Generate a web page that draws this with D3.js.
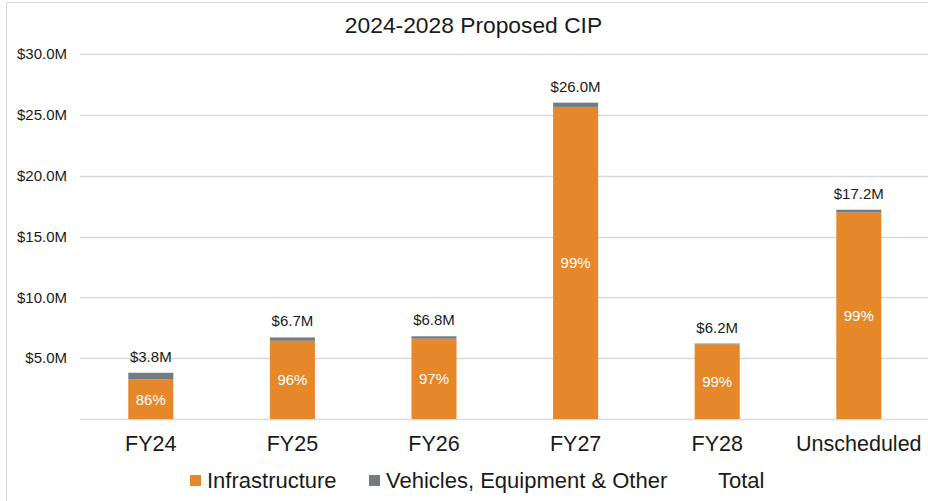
<!DOCTYPE html>
<html>
<head>
<meta charset="utf-8">
<script src="https://cdn.jsdelivr.net/npm/d3@7"></script>
<style>
  html, body { margin: 0; padding: 0; background: #fff; }
  svg { display: block; font-family: "Liberation Sans", Arial, sans-serif; }
</style>
</head>
<body>
<svg id="chart" width="928" height="501"></svg>
<script>
// Capital program by fiscal year, in $ millions
const categories = ["FY24", "FY25", "FY26", "FY27", "FY28", "Unscheduled"];
const infrastructure = [3.27, 6.43, 6.60, 25.65, 6.14, 16.98];
const vehiclesEquipment = [0.53, 0.27, 0.20, 0.35, 0.06, 0.22];
const yTicks = [5, 10, 15, 20, 25, 30];
const legendLabels = ["Infrastructure", "Vehicles, Equipment & Other", "Total"];
const chartTitle = "2024-2028 Proposed CIP";

const colors = { infra: "#E6872A", other: "#737B7F", grid: "#D9D9D9", text: "#1A1A1A" };

const svg = d3.select("#chart");

// Outer chart-area frame
svg.append("rect")
  .attr("x", 6.5).attr("y", 2.5)
  .attr("width", 940).attr("height", 520)
  .attr("fill", "none").attr("stroke", colors.grid);

const x = d3.scaleBand()
  .domain(categories)
  .range([80, 929.6])
  .paddingInner(0.682)
  .paddingOuter(0.341);

const y = d3.scaleLinear().domain([0, 30]).range([419, 54]);

// Gridlines (including baseline)
svg.append("g")
  .selectAll("line")
  .data([0].concat(yTicks))
  .join("line")
  .attr("x1", 80).attr("x2", 930)
  .attr("y1", d => Math.round(y(d)) + 0.5)
  .attr("y2", d => Math.round(y(d)) + 0.5)
  .attr("stroke", colors.grid)
  .attr("stroke-width", 1.3);

// Y axis labels
const yAxis = d3.axisLeft(y)
  .tickValues(yTicks)
  .tickSize(0)
  .tickPadding(0)
  .tickFormat(d => "$" + d3.format(".1f")(d) + "M");
svg.append("g")
  .attr("transform", "translate(67,0)")
  .call(yAxis)
  .call(g => g.select(".domain").remove())
  .call(g => g.selectAll("text")
    .attr("font-size", "15px")
    .attr("font-family", "Liberation Sans, Arial, sans-serif")
    .attr("fill", colors.text));

// X axis labels
const xAxis = d3.axisBottom(x).tickSize(0).tickPadding(0);
svg.append("g")
  .attr("transform", "translate(0,436)")
  .call(xAxis)
  .call(g => g.select(".domain").remove())
  .call(g => g.selectAll("text")
    .attr("font-size", "21.5px")
    .attr("font-family", "Liberation Sans, Arial, sans-serif")
    .attr("fill", colors.text));

const rows = categories.map((c, i) => ({
  cat: c,
  infra: infrastructure[i],
  other: vehiclesEquipment[i],
  total: infrastructure[i] + vehiclesEquipment[i]
}));

const bars = svg.append("g");

// Infrastructure segment
bars.selectAll("rect.infra")
  .data(rows)
  .join("rect")
  .attr("class", "infra")
  .attr("x", d => x(d.cat))
  .attr("width", x.bandwidth())
  .attr("y", d => y(d.infra))
  .attr("height", d => y(0) - y(d.infra))
  .attr("fill", colors.infra);

// Vehicles, equipment & other segment
bars.selectAll("rect.other")
  .data(rows)
  .join("rect")
  .attr("class", "other")
  .attr("x", d => x(d.cat))
  .attr("width", x.bandwidth())
  .attr("y", d => y(d.total))
  .attr("height", d => y(d.infra) - y(d.total))
  .attr("fill", colors.other);

// Infrastructure share labels
bars.selectAll("text.pct")
  .data(rows)
  .join("text")
  .attr("class", "pct")
  .attr("x", d => x(d.cat) + x.bandwidth() / 2)
  .attr("y", d => (y(d.infra) + y(0)) / 2 + 5.5)
  .attr("text-anchor", "middle")
  .attr("font-size", "15px")
  .attr("fill", "#FFFFFF")
  .text(d => Math.round(d.infra / d.total * 100) + "%");

// Total labels
bars.selectAll("text.total")
  .data(rows)
  .join("text")
  .attr("class", "total")
  .attr("x", d => x(d.cat) + x.bandwidth() / 2)
  .attr("y", d => y(d.total) - 11)
  .attr("text-anchor", "middle")
  .attr("font-size", "15px")
  .attr("fill", colors.text)
  .text(d => "$" + d3.format(".1f")(d.total) + "M");

// Title
svg.append("text")
  .attr("x", 473.5).attr("y", 33)
  .attr("text-anchor", "middle")
  .attr("font-size", "22.8px")
  .attr("fill", colors.text)
  .text(chartTitle);

// Legend
const legendItems = [
  { label: legendLabels[0], color: colors.infra, x: 190 },
  { label: legendLabels[1], color: colors.other, x: 369 },
  { label: legendLabels[2], color: null, x: 701 }
];
const legend = svg.append("g");
legendItems.forEach(item => {
  if (item.color) {
    legend.append("rect")
      .attr("x", item.x).attr("y", 475)
      .attr("width", 11).attr("height", 11)
      .attr("fill", item.color);
  }
  legend.append("text")
    .attr("x", item.x + 17).attr("y", 488)
    .attr("font-size", "22px")
    .attr("fill", colors.text)
    .text(item.label);
});
</script>
</body>
</html>
